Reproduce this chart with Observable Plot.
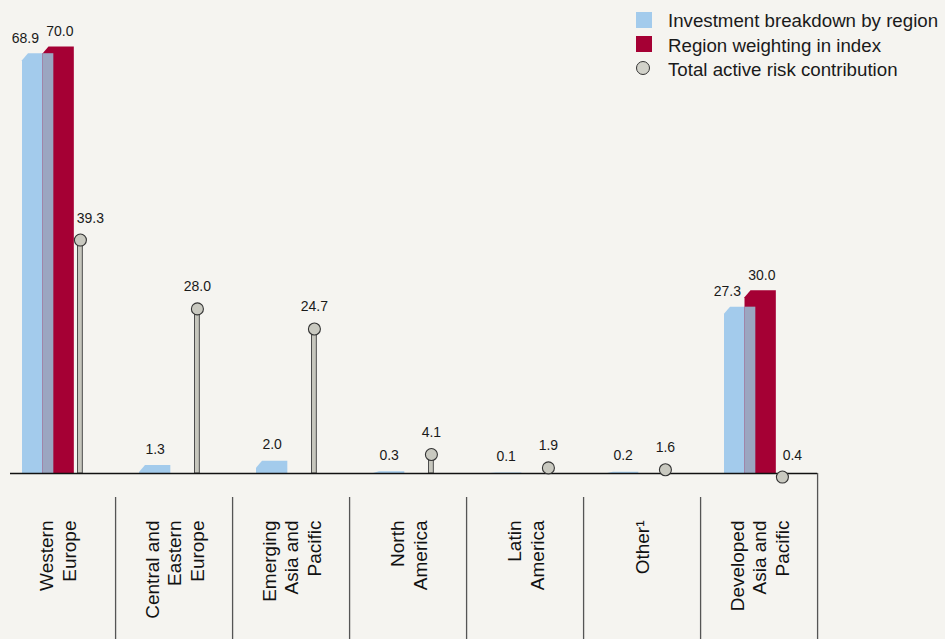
<!DOCTYPE html>
<html><head><meta charset="utf-8">
<script src="https://cdn.jsdelivr.net/npm/d3@7"></script>
<script src="https://cdn.jsdelivr.net/npm/@observablehq/plot@0.6"></script>
<style>
html,body{margin:0;padding:0;background:#f5f4f0;}
#wrap{position:relative;width:945px;height:639px;overflow:hidden;font-family:"Liberation Sans",Arial,sans-serif;}
.li{position:absolute;left:668px;font-size:18.7px;color:#1a1a1a;white-space:nowrap;line-height:1;}
.sw{position:absolute;left:636px;width:16px;height:16px;}
.sc{position:absolute;left:636px;width:12px;height:12px;border:1.3px solid #333;border-radius:50%;background:#d2d2ca;}
</style></head><body>
<div id="wrap">
  <div class="sw" style="top:11.5px;background:#a3cbec"></div>
  <div class="li" style="top:12px">Investment breakdown by region</div>
  <div class="sw" style="top:35.5px;background:#a50034"></div>
  <div class="li" style="top:36.5px">Region weighting in index</div>
  <div class="sc" style="top:61px"></div>
  <div class="li" style="top:60.5px">Total active risk contribution</div>
</div>
<script>
const categories = ["Western\nEurope", "Central and\nEastern\nEurope", "Emerging\nAsia and\nPacific", "North\nAmerica", "Latin\nAmerica", "Other\u00B9", "Developed\nAsia and\nPacific"];
const investment = [68.9, 1.3, 2.0, 0.3, 0.1, 0.2, 27.3];
const weighting = [70.0, null, null, null, null, null, 30.0];
const risk = [39.3, 28.0, 24.7, 4.1, 1.9, 1.6, 0.4];

const BLUE = "#a3cbec", RED = "#a50034", OVER = "#9ba6c1";
const rows = categories.map((c, i) => ({category: c, investment: investment[i], weighting: weighting[i], risk: risk[i], hasRed: weighting[i] != null}));
const withRed = rows.filter(d => d.hasRed);
const noRed = rows.filter(d => !d.hasRed);
const X0 = -2.9, X1 = 817.3;
const BW = (X1 - X0) / categories.length;
const fmt = d3.format(".1f");
const FONT = "Liberation Sans, Arial, sans-serif";

const chart = Plot.plot({
  width: 945, height: 639,
  marginTop: 0, marginBottom: 0, marginLeft: 10, marginRight: 945 - X1,
  style: {background: "transparent", fontFamily: FONT, overflow: "visible"},
  x: {type: "band", domain: categories, range: [X0, X1], padding: 0, axis: null},
  y: {domain: [0, 70], range: [473, 46.5], axis: null},
  marks: [
    Plot.barY(rows, {x: "category", y: "investment", fill: BLUE, insetLeft: 24, insetRight: BW - 55.5}),
    Plot.barY(withRed, {x: "category", y: "weighting", fill: RED, insetLeft: 44.5, insetRight: BW - 76}),
    Plot.barY(withRed, {x: "category", y: d => Math.min(d.investment, d.weighting), fill: OVER, insetLeft: 44.5, insetRight: BW - 55.5}),
    Plot.barY(rows, {x: "category", y: "risk", fill: "#c6c6bd", stroke: "#4d4d4d", strokeWidth: 1, insetLeft: 79.5, insetRight: BW - 84.5, insetTop: 6}),
    Plot.ruleY([0], {stroke: "#111", strokeWidth: 1.3}),
    Plot.dot(rows, {x: "category", y: "risk", r: 6, fill: "#c9c9c0", stroke: "#333", strokeWidth: 1.1, dx: 82 - BW / 2, dy: 6}),
    // value labels
    Plot.text(withRed, {x: "category", y: "investment", text: d => fmt(d.investment), textAnchor: "end", dx: 40.5 - BW / 2, dy: -15.5, fontSize: 14, fill: "#1a1a1a"}),
    Plot.text(noRed, {x: "category", y: "investment", text: d => fmt(d.investment), dx: 39.75 - BW / 2, dy: -16.5, fontSize: 14, fill: "#1a1a1a"}),
    Plot.text(withRed, {x: "category", y: "weighting", text: d => fmt(d.weighting), dx: 61.5 - BW / 2, dy: -15.5, fontSize: 14, fill: "#1a1a1a"}),
    Plot.text(withRed, {x: "category", y: "risk", text: d => fmt(d.risk), dx: 92 - BW / 2, dy: -16, fontSize: 14, fill: "#1a1a1a"}),
    Plot.text(noRed, {x: "category", y: "risk", text: d => fmt(d.risk), dx: 82 - BW / 2, dy: -16, fontSize: 14, fill: "#1a1a1a"}),
    // separators
    Plot.ruleX(categories.slice(0, -1), {x: d => d, dx: BW / 2, insetTop: 497, stroke: "#555", strokeWidth: 1.3}),
    Plot.ruleX(categories.slice(-1), {x: d => d, dx: BW / 2, insetTop: 473, stroke: "#555", strokeWidth: 1.3}),
    // category labels
    Plot.text(categories, {x: d => d, text: d => d, rotate: -90, textAnchor: "end", lineAnchor: "middle", frameAnchor: "top", dy: 520, fontSize: 19, lineHeight: 1.2, fill: "#111"})
  ]
});

// bevel the top-left corner of the blue and red bars
for (const col of [BLUE, RED]) {
  chart.querySelectorAll(`g[fill="${col}"] rect`).forEach(r => {
    const x = +r.getAttribute("x"), y = +r.getAttribute("y"), w = +r.getAttribute("width"), h = +r.getAttribute("height");
    const cy = Math.min(7, h), cx = Math.min(6, w);
    const p = document.createElementNS("http://www.w3.org/2000/svg", "path");
    for (const a of r.attributes) if (!["x", "y", "width", "height"].includes(a.name)) p.setAttribute(a.name, a.value);
    p.setAttribute("d", `M${x},${y + h}L${x},${y + cy}L${x + cx},${y}L${x + w},${y}L${x + w},${y + h}Z`);
    r.replaceWith(p);
  });
}
chart.style.position = "absolute";
chart.style.left = "0";
chart.style.top = "0";
document.getElementById("wrap").prepend(chart);
</script>
</body></html>
